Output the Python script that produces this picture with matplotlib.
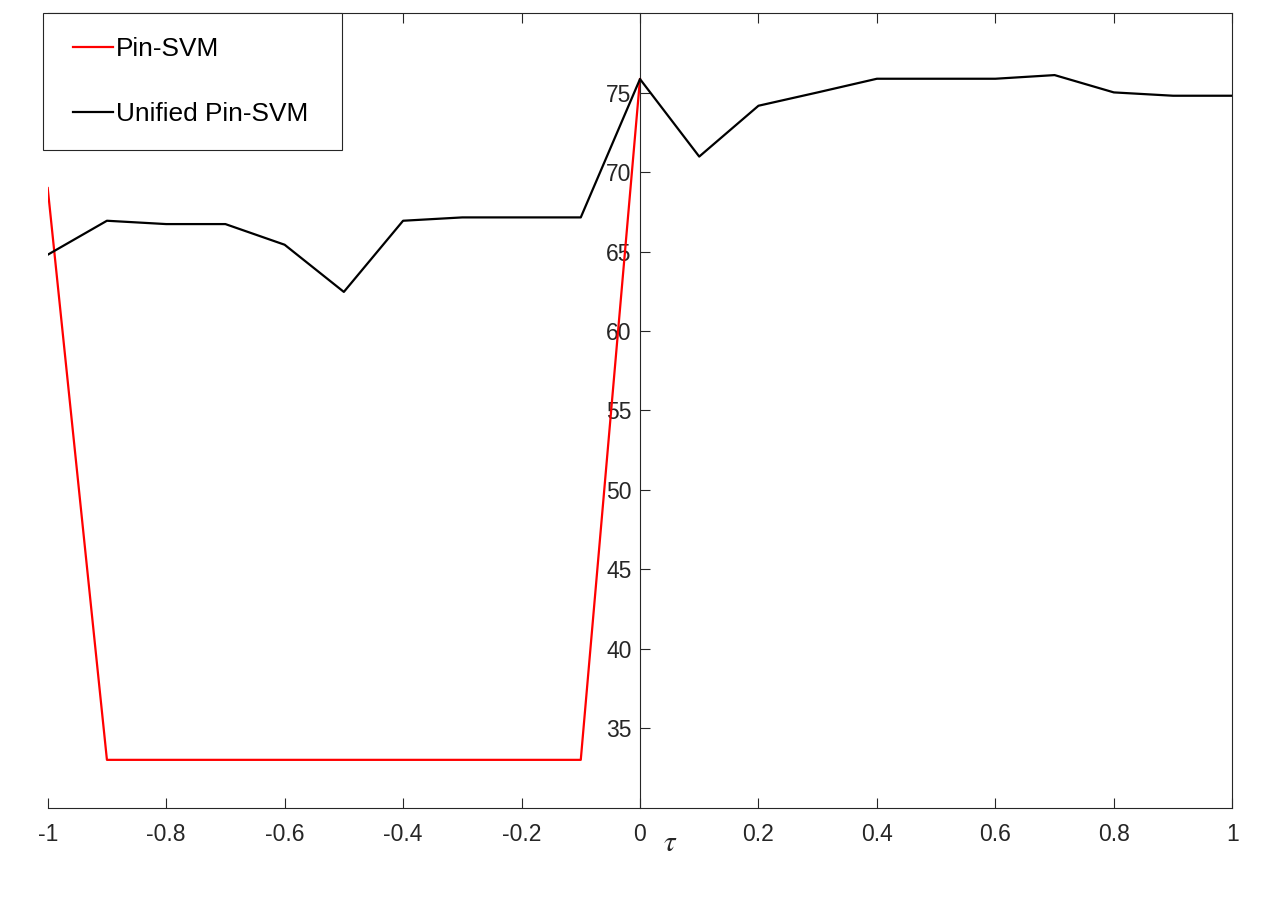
import matplotlib
matplotlib.use("Agg")
import matplotlib.pyplot as plt
from matplotlib.patches import Rectangle

plt.rcParams['font.family'] = ['Liberation Sans', 'DejaVu Sans']
plt.rcParams['mathtext.fontset'] = 'stix'
plt.rcParams['axes.unicode_minus'] = False

# ---- data ----
tau = [-1.0, -0.9, -0.8, -0.7, -0.6, -0.5, -0.4, -0.3, -0.2, -0.1, 0.0,
       0.1, 0.2, 0.3, 0.4, 0.5, 0.6, 0.7, 0.8, 0.9, 1.0]
tau_pin = [-1.0, -0.9, -0.8, -0.7, -0.6, -0.5, -0.4, -0.3, -0.2, -0.1, 0.0]
pin_svm = [69.0, 33.0, 33.0, 33.0, 33.0, 33.0, 33.0, 33.0, 33.0, 33.0, 75.86]
unified_pin_svm = [64.8, 66.94, 66.73, 66.73, 65.43, 62.46, 66.94, 67.15, 67.15, 67.15,
                   75.86, 70.98, 74.18, 75.02, 75.88, 75.88, 75.88, 76.11, 75.02, 74.81, 74.81]
xticks = [-1, -0.8, -0.6, -0.4, -0.2, 0, 0.2, 0.4, 0.6, 0.8, 1]
xticklabels = ['-1', '-0.8', '-0.6', '-0.4', '-0.2', '0', '0.2', '0.4', '0.6', '0.8', '1']
yticks = [35, 40, 45, 50, 55, 60, 65, 70, 75]
yticklabels = ['35', '40', '45', '50', '55', '60', '65', '70', '75']
series_names = ['Pin-SVM', 'Unified Pin-SVM']
xlabel = r'$\tau$'

W, H = 1280, 908
fig = plt.figure(figsize=(W / 100, H / 100), dpi=100)
L, R, T, B = 47.7, 1232.3, 13.3, 807.5
ax = fig.add_axes([L / W, 1 - B / H, (R - L) / W, (B - T) / H])

axc = '#262626'
ax.plot(tau_pin, pin_svm, color='#FF0000', lw=1.6, label=series_names[0], zorder=2)
ax.plot(tau, unified_pin_svm, color='#000000', lw=1.6, label=series_names[1], zorder=3)

ax.set_xlim(-1, 1)
ax.set_ylim(30, 80)
ax.set_xticks(xticks)
ax.set_xticklabels(xticklabels)
ax.set_yticks(yticks)
ax.set_yticklabels(yticklabels)

ax.spines['left'].set_position(('data', 0))
for s in ax.spines.values():
    s.set_color(axc)
    s.set_linewidth(0.8)
ax.xaxis.set_ticks_position('both')
ax.yaxis.set_ticks_position('left')
ax.tick_params(axis='x', direction='in', length=7.5, width=0.8, color=axc,
               labelsize=16.5, labelcolor=axc, pad=11.5)
ax.tick_params(axis='y', direction='in', length=7.5, width=0.8, color=axc,
               labelsize=16.5, labelcolor=axc, pad=6)

ax.set_xlabel(xlabel, fontsize=21, color=axc, va='center')
ax.xaxis.set_label_coords((670 - L) / (R - L), -(843 - B) / (B - T))

# legend frame and legend
ax.add_patch(Rectangle((43.3 / W, 1 - 150 / H), (342.3 - 43.3) / W, (150 - 13.3) / H,
                       transform=fig.transFigure, facecolor='white', edgecolor=axc,
                       lw=0.8, clip_on=False, zorder=4))
fs = 18.9
fs_px = fs * 100 / 72
leg = ax.legend(loc='center left', bbox_to_anchor=(73.3 / W, 1 - 81.8 / H),
                bbox_transform=fig.transFigure, frameon=False, fontsize=fs,
                borderpad=0, borderaxespad=0, handlelength=39.4 / fs_px,
                handletextpad=3 / fs_px, labelspacing=1.55)
leg.set_zorder(5)
for t in leg.get_texts():
    t.set_color('black')

fig.savefig('out.png', dpi=100, facecolor='white')
